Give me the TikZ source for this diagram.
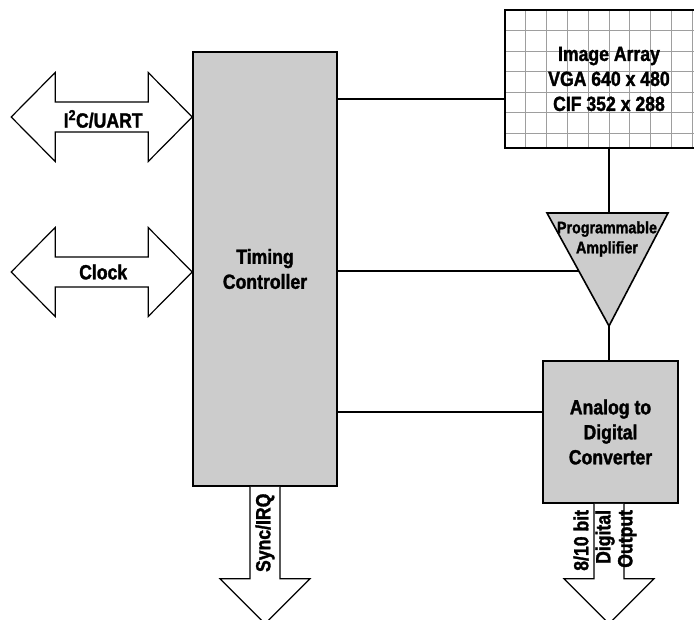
\documentclass[tikz,border=0pt]{standalone}
\usepackage{fontspec}
\setmainfont{Liberation Sans}[FakeStretch=0.86,BoldFont={Liberation Sans Bold},BoldFeatures={FakeBold=1.6}]
\usetikzlibrary{calc}
\definecolor{boxgray}{gray}{0.8}
\definecolor{gridgray}{gray}{0.62}

\begin{document}
\begin{tikzpicture}[x=1pt,y=-1pt,
  blk/.style={draw,line width=1.6pt,fill=boxgray,inner sep=0pt},
  wire/.style={line width=1.6pt},
  fat/.style={draw,line width=1.2pt,fill=white,line join=miter},
  lbl/.style={font=\bfseries\fontsize{20.5}{25}\selectfont,align=center},
  small/.style={font=\bfseries\fontsize{16.6}{20}\selectfont,align=center}]
\useasboundingbox (0,0) rectangle (694,620);

\node[blk,lbl,minimum width=144pt,minimum height=434pt] (timing) at (265,269) {Timing\\Controller};

\node[draw,line width=1.6pt,minimum width=190pt,minimum height=138pt,
  path picture={
    \foreach \k in {1,...,9}
      \draw[gridgray,line width=0.8pt] ([xshift=\k*20.8pt]path picture bounding box.south west) -- ([xshift=\k*20.8pt]path picture bounding box.north west);
    \foreach \k in {1,...,6}
      \draw[gridgray,line width=0.8pt] ([yshift=-\k*20.5pt]path picture bounding box.north west) -- ([yshift=-\k*20.5pt]path picture bounding box.north east);
  }] (array) at (600,79) {};
\node[lbl] (arraytxt) at ([xshift=9pt]array.center) {Image Array\\VGA 640 x 480\\CIF 352 x 288};

\node[blk,lbl,minimum width=135pt,minimum height=142pt] (adc) at (610.5,432) {Analog to\\Digital\\Converter};

\coordinate (ampL) at (547,213);
\coordinate (ampR) at (668,213);
\coordinate (ampB) at (609,326);
\draw[blk] (ampL) -- (ampR) -- (ampB) -- cycle;
\node[small] (amptxt) at (607,239) {Programmable\\Amplifier};
\coordinate (ampin) at ($(ampL)!0.513!(ampB)$);

\coordinate (arrin) at ([yshift=-20pt]array.west);
\draw[wire] (arrin -| timing.east) -- (arrin);
\draw[wire] (ampin -| timing.east) -- (ampin);
\coordinate (adcin) at ([yshift=20pt]adc.west);
\draw[wire] (adcin -| timing.east) -- (adcin);
\draw[wire] (ampB |- array.south) -- (ampB |- ampL);
\draw[wire] (ampB) -- (ampB |- adc.north);

\coordinate (i2c) at (timing.west |- 0,117);
\draw[fat] (i2c) -- ++(-44,-44.5) -- ++(0,29.5) -- ++(-93,0) -- ++(0,-29.5) -- ++(-44,44.5)
  -- ++(44,44.5) -- ++(0,-29.5) -- ++(93,0) -- ++(0,29.5) -- cycle;
\node[lbl] (i2ctxt) at ([xshift=-89pt,yshift=-2pt]i2c) {I\textsuperscript{2}C/UART};

\coordinate (clk) at (timing.west |- 0,272);
\draw[fat] (clk) -- ++(-44,-44.5) -- ++(0,29.5) -- ++(-93,0) -- ++(0,-29.5) -- ++(-44,44.5)
  -- ++(44,44.5) -- ++(0,-29.5) -- ++(93,0) -- ++(0,29.5) -- cycle;
\node[lbl] (clktxt) at ([xshift=-89pt]clk) {Clock};

\coordinate (sync) at (timing.south);
\draw[fat] ([xshift=-15pt]sync) -- ++(0,92) -- ++(-30,0) -- ++(45,45) -- ++(45,-45) -- ++(-30,0) -- ++(0,-92);
\node[lbl,rotate=90] (synctxt) at ([yshift=-46pt]sync) {Sync/IRQ};

\coordinate (dout) at (ampB |- adc.south);
\draw[fat] ([xshift=-15pt]dout) -- ++(0,75) -- ++(-30,0) -- ++(45,45) -- ++(45,-45) -- ++(-30,0) -- ++(0,-75);
\node[font=\bfseries\fontsize{20.5}{22}\selectfont,rotate=90,align=right,anchor=east,inner sep=0pt] (douttxt) at ([xshift=-4pt,yshift=-6pt]dout) {8/10 bit\\Digital\\Output};
\end{tikzpicture}
\end{document}
